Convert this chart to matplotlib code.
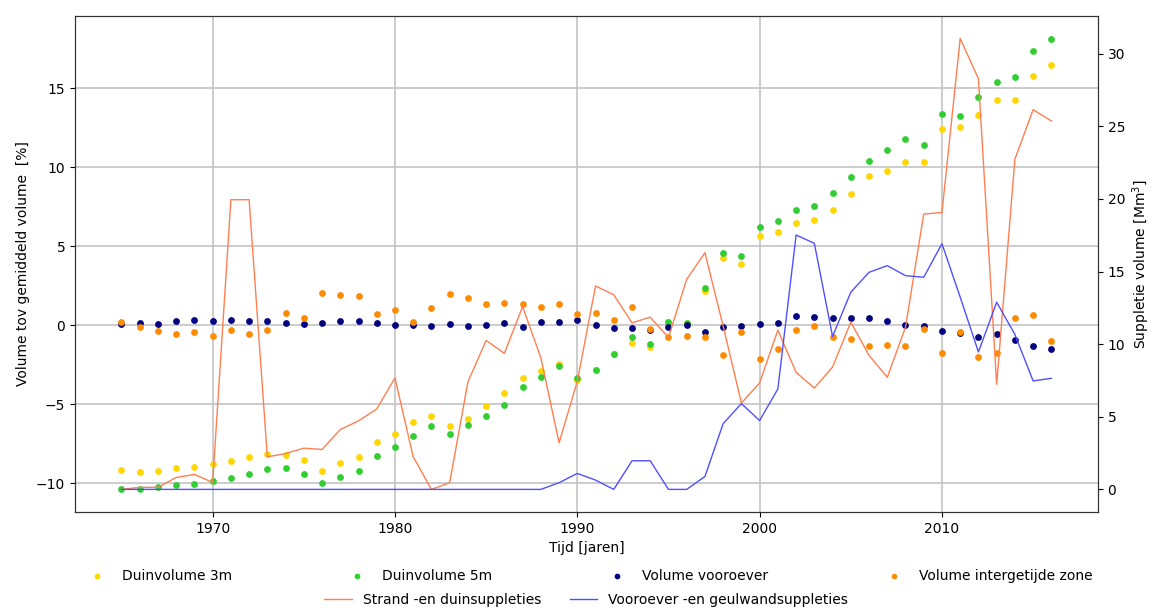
import matplotlib
matplotlib.use('Agg')
import matplotlib.pyplot as plt
import numpy as np

years = list(range(1965, 2017))

duin_3m = [-9.15, -9.26, -9.24, -9.05, -8.96, -8.75, -8.60, -8.35, -8.12, -8.18,
           -8.50, -9.20, -8.69, -8.31, -7.36, -6.87, -6.09, -5.73, -6.38, -5.92,
           -5.10, -4.31, -3.32, -2.90, -2.45, -3.45, -2.80, -1.80, -1.12, -1.40,
           0.20, 0.15, 2.16, 4.27, 3.87, 5.62, 5.92, 6.47, 6.64, 7.29,
           8.31, 9.43, 9.79, 10.32, 10.32, 12.43, 12.56, 13.30, 14.23, 14.23,
           15.75, 16.47]
duin_5m = [-10.36, -10.38, -10.23, -10.08, -10.02, -9.87, -9.66, -9.39, -9.09, -9.05,
           -9.39, -10.00, -9.60, -9.22, -8.27, -7.72, -7.00, -6.38, -6.85, -6.32,
           -5.75, -5.03, -3.91, -3.28, -2.58, -3.32, -2.81, -1.80, -0.74, -1.18,
           0.23, 0.15, 2.35, 4.55, 4.40, 6.22, 6.58, 7.29, 7.57, 8.39,
           9.41, 10.40, 11.12, 11.78, 11.40, 13.34, 13.26, 14.46, 15.37, 15.69,
           17.32, 18.14]
vooroever = [0.06, 0.15, 0.11, 0.25, 0.36, 0.30, 0.36, 0.30, 0.30, 0.17,
             0.11, 0.17, 0.25, 0.27, 0.15, 0.02, 0.02, -0.02, 0.06, -0.02,
             0.02, 0.13, -0.08, 0.19, 0.23, 0.32, 0.02, -0.17, -0.15, -0.30,
             -0.13, 0.04, -0.44, -0.08, -0.04, 0.11, 0.17, 0.61, 0.53, 0.44,
             0.44, 0.47, 0.27, 0.04, -0.02, -0.34, -0.51, -0.72, -0.57, -0.95,
             -1.29, -1.52]
intergetijde = [0.19, -0.08, -0.36, -0.57, -0.42, -0.68, -0.32, -0.55, -0.32, 0.76,
                0.44, 2.07, 1.92, 1.84, 0.70, 0.97, 0.19, 1.08, 1.95, 1.71,
                1.37, 1.42, 1.33, 1.14, 1.37, 0.70, 0.80, 0.32, 1.18, -0.23,
                -0.76, -0.66, -0.72, -1.86, -0.40, -2.14, -1.52, -0.27, -0.06, -0.74,
                -0.85, -1.31, -1.27, -1.29, -0.25, -1.75, -0.40, -1.99, -1.78, 0.49,
                0.63, -0.97]

# suppleties [Mm3]
strand_duin = [0.0, 0.14, 0.14, 0.82, 1.03, 0.48, 19.95, 19.95, 2.24, 2.47,
               2.84, 2.75, 4.12, 4.72, 5.54, 7.67, 2.24, 0.0, 0.46, 7.40,
               10.26, 9.37, 12.59, 9.07, 3.21, 7.45, 14.01, 13.40, 11.47, 11.86,
               10.46, 14.47, 16.30, 11.24, 5.95, 7.33, 10.97, 8.06, 6.98, 8.43,
               11.52, 9.23, 7.72, 11.17, 18.96, 19.07, 31.05, 28.28, 7.24, 22.74,
               26.15, 25.37]
vooroever_geul = [0.0, 0.0, 0.0, 0.0, 0.0, 0.0, 0.0, 0.0, 0.0, 0.0,
                  0.0, 0.0, 0.0, 0.0, 0.0, 0.0, 0.0, 0.0, 0.0, 0.0,
                  0.0, 0.0, 0.0, 0.0, 0.46, 1.10, 0.64, 0.0, 1.97, 1.97,
                  0.0, 0.0, 0.89, 4.53, 5.91, 4.74, 6.92, 17.52, 16.95, 10.53,
                  13.58, 14.95, 15.41, 14.72, 14.61, 16.92, 13.24, 9.46, 12.89, 10.67,
                  7.47, 7.65]

fig = plt.figure(figsize=(11.52, 6.08), dpi=100)
ax = fig.add_axes([0.0651, 0.158, 0.8879, 0.8157])

s1 = ax.scatter(years, duin_3m, s=15, color='gold', label='Duinvolume 3m')
s2 = ax.scatter(years, duin_5m, s=15, color='limegreen', label='Duinvolume 5m')
s3 = ax.scatter(years, vooroever, s=15, color='navy', label='Volume vooroever')
s4 = ax.scatter(years, intergetijde, s=15, color='darkorange', label='Volume intergetijde zone')
ax.grid(True, color='#c4c4c4', linewidth=1.2)
ax.set_axisbelow(True)
ax.set_xlabel('Tijd [jaren]')
ax.set_ylabel('Volume tov gemiddeld volume  [%]')

ax2 = ax.twinx()
l1, = ax2.plot(years, strand_duin, color='#ff7f50', linewidth=1, label='Strand -en duinsuppleties')
l2, = ax2.plot(years, vooroever_geul, color='#5050ff', linewidth=1, label='Vooroever -en geulwandsuppleties')
ax2.set_ylabel('Suppletie volume [Mm$^3$]')

for a in (ax, ax2):
    for sp in a.spines.values():
        sp.set_color('#333333')

fig.legend(handles=[s1, s2, s3, s4], loc='center', ncol=4, mode='expand',
           bbox_to_anchor=(0.061, 0.0526, 0.898, 0.0), frameon=False, markerscale=0.8)
fig.legend(handles=[l1, l2], loc='center', ncol=2,
           bbox_to_anchor=(0.509, 0.0132), frameon=False)

fig.savefig('out.png', dpi=100)
